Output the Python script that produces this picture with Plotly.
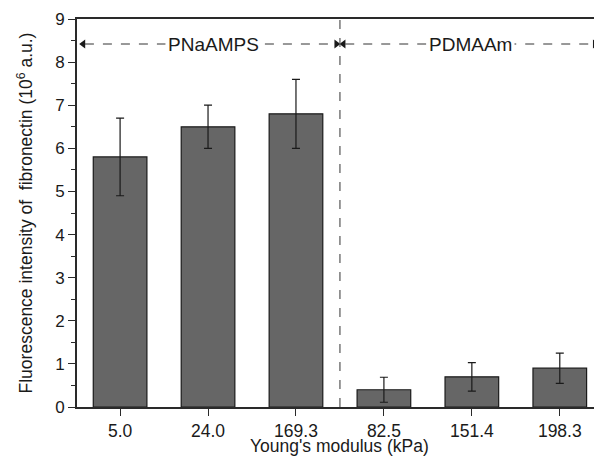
import plotly.graph_objects as go

categories = ["5.0", "24.0", "169.3", "82.5", "151.4", "198.3"]
values = [5.8, 6.5, 6.8, 0.4, 0.7, 0.9]
errors = [0.9, 0.5, 0.8, 0.29, 0.33, 0.35]
group_labels = ["PNaAMPS", "PDMAAm"]
x_title = "Young's modulus (kPa)"
y_title = "Fluorescence intensity of  fibronectin (10<sup>6</sup> a.u.)"

FONT = "Liberation Sans, Arial, sans-serif"
AX = "#2a2a2a"

fig = go.Figure()
fig.add_trace(go.Bar(
    x=list(range(len(categories))), y=values, width=0.61,
    marker=dict(color="#666666", line=dict(color="#1a1a1a", width=1.2)),
    error_y=dict(type="data", array=errors, visible=True, color="#1a1a1a",
                 thickness=1.2, width=4),
    showlegend=False,
))

# separator
fig.add_shape(type="line", xref="x", yref="y", x0=2.5, x1=2.5, y0=0, y1=9,
              line=dict(color="#555555", width=1.2, dash="dash"))
# dashed group lines
ya = 8.42
fig.add_shape(type="line", xref="x", yref="y", x0=-0.40, x1=2.44, y0=ya, y1=ya,
              line=dict(color="#333333", width=1, dash="dash"))
fig.add_shape(type="line", xref="x", yref="y", x0=2.56, x1=5.38, y0=ya, y1=ya,
              line=dict(color="#333333", width=1, dash="dash"))

# arrowheads
fig.add_trace(go.Scatter(
    x=[-0.42, 2.46, 2.54, 5.40], y=[ya] * 4, mode="markers",
    marker=dict(symbol=["triangle-left", "triangle-right", "triangle-left", "triangle-right"],
                size=8, color="#1a1a1a", line=dict(width=0)),
    showlegend=False, hoverinfo="skip",
))

fig.add_annotation(x=1.06, y=ya, xref="x", yref="y", text=group_labels[0],
                   showarrow=False, bgcolor="white", borderpad=2,
                   font=dict(family=FONT, size=19, color="#1a1a1a"))
fig.add_annotation(x=3.98, y=ya, xref="x", yref="y", text=group_labels[1],
                   showarrow=False, bgcolor="white", borderpad=2,
                   font=dict(family=FONT, size=19, color="#1a1a1a"))

# x-axis title
fig.add_annotation(x=0.5, y=-0.1, xref="paper", yref="paper", text=x_title,
                   showarrow=False, xanchor="center", yanchor="middle",
                   borderpad=0,
                   font=dict(family=FONT, size=17.5, color="#1a1a1a"))

fig.update_layout(
    width=594, height=449,
    margin=dict(l=69, r=0, t=11, b=50),
    plot_bgcolor="white", paper_bgcolor="white",
    font=dict(family=FONT, size=17, color="#1a1a1a"),
)
fig.update_xaxes(
    tickmode="array", tickvals=list(range(len(categories))), ticktext=categories,
    range=[-0.49, 5.48], showgrid=False, zeroline=False,
    showline=True, linecolor=AX, linewidth=1.6, mirror=True,
    ticks="outside", ticklen=7, tickwidth=1.3, tickcolor=AX,
    tickfont=dict(size=17.5), automargin=False,
)
fig.update_yaxes(
    range=[0, 9], dtick=1, showgrid=False, zeroline=False,
    showline=True, linecolor=AX, linewidth=1.6, mirror=False,
    ticks="outside", ticklen=7, tickwidth=1.3, tickcolor=AX,
    minor=dict(dtick=0.5, ticks="outside", ticklen=4, tickwidth=1.1, tickcolor=AX),
    tickfont=dict(size=17), automargin=False,
    title=dict(text=y_title, standoff=18, font=dict(size=17.5)),
)

fig.write_html("out.html")
